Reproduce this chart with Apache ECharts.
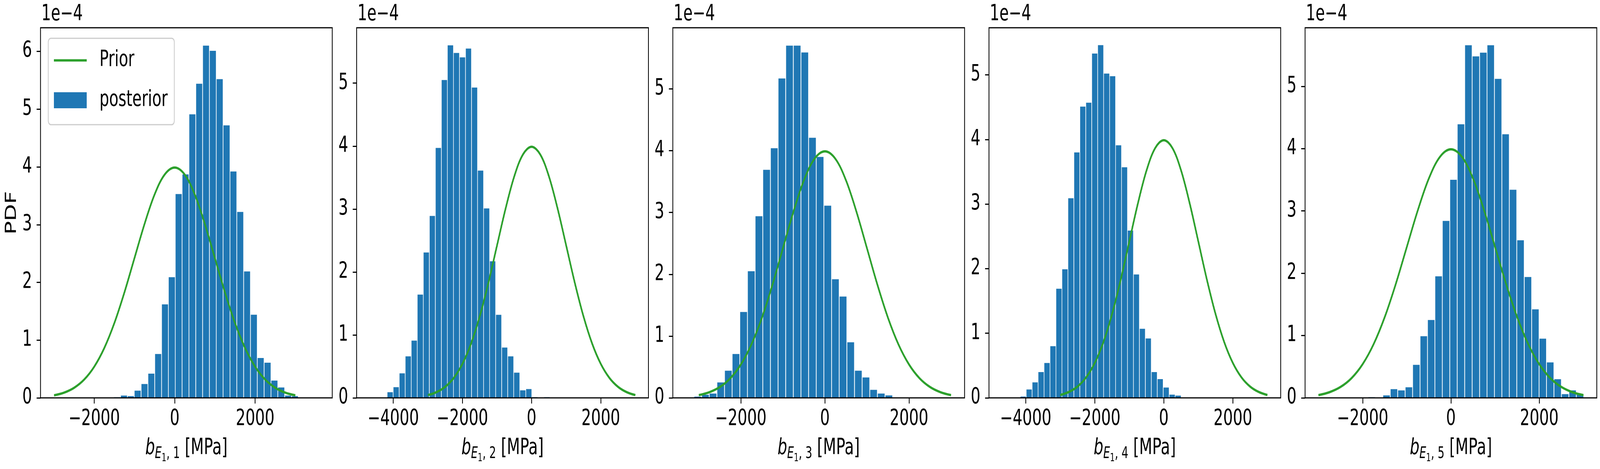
<!DOCTYPE html>
<html>
<head>
<meta charset="utf-8">
<script src="https://cdn.jsdelivr.net/npm/echarts@6/dist/echarts.min.js"></script>
<style>
  html, body { margin: 0; padding: 0; background: #fff; overflow: hidden; }
  #chart { width: 6000px; height: 1200px; transform-origin: 0 0; }
</style>
</head>
<body>
<div id="chart"></div>
<script>
// all pdf values are in units of 1e-4 (the offset text on each axis)

// prior curve, the same in all five panels
const priorX = [-3000, -2750, -2500, -2250, -2000, -1750, -1500, -1250, -1000, -750, -500, -250, 0,
  250, 500, 750, 1000, 1250, 1500, 1750, 2000, 2250, 2500, 2750, 3000];
const priorPdf = [0.044, 0.091, 0.175, 0.317, 0.54, 0.863, 1.295, 1.826, 2.42, 3.011, 3.521, 3.867, 3.989,
  3.867, 3.521, 3.011, 2.42, 1.826, 1.295, 0.863, 0.54, 0.317, 0.175, 0.091, 0.044];

// posterior histograms, 30 bins each
const binStart = [-1516, -4700, -3297, -4677, -2048];
const binWidth = [170, 174.3, 181.8, 172.6, 168.5];

const post1 = [0.01, 0.04, 0.03, 0.125, 0.24, 0.42, 0.76, 1.62, 2.09, 3.53, 3.87, 4.91, 5.44, 6.10, 6.01,
  5.52, 4.72, 3.92, 3.22, 2.19, 1.44, 0.69, 0.61, 0.30, 0.18, 0.04, 0.03, 0, 0, 0];
const post2 = [0.005, 0.003, 0.005, 0.09, 0.17, 0.39, 0.66, 0.91, 1.64, 2.31, 2.89, 3.97, 5.05, 5.60, 5.48,
  5.41, 5.55, 4.93, 3.61, 3.01, 2.17, 1.32, 0.80, 0.66, 0.40, 0.12, 0.14, 0.01, 0.005, 0.01];
const post3 = [0, 0.02, 0.05, 0.07, 0.25, 0.44, 0.71, 1.39, 2.05, 2.94, 3.69, 4.04, 5.17, 5.70, 5.70,
  5.59, 4.21, 3.90, 3.11, 1.92, 1.64, 0.90, 0.44, 0.33, 0.13, 0.07, 0.04, 0, 0, 0];
const post4 = [0.005, 0.005, 0, 0.02, 0.13, 0.24, 0.40, 0.54, 0.80, 1.69, 1.99, 3.09, 3.80, 4.51, 4.57,
  5.33, 5.46, 5.02, 4.98, 3.91, 3.57, 2.59, 1.91, 1.07, 0.92, 0.40, 0.29, 0.16, 0.05, 0.035];
const post5 = [0.003, 0.01, 0.003, 0.04, 0.14, 0.12, 0.17, 0.53, 0.99, 1.25, 1.95, 2.84, 3.50, 4.39, 5.66,
  5.48, 5.54, 5.66, 5.12, 4.23, 3.34, 2.53, 1.94, 1.42, 0.95, 0.57, 0.30, 0.06, 0.12, 0.05];
const posteriors = [post1, post2, post3, post4, post5];

// axis extents and ticks
const xMin = [-3335, -5057, -3618, -5065, -3303];
const xMax = [3918, 3377, 3320, 3385, 3303];
const yMax = [6.41, 5.88, 5.99, 5.73, 5.94];
const xTicks = [
  [-2000, 0, 2000],
  [-4000, -2000, 0, 2000],
  [-2000, 0, 2000],
  [-4000, -2000, 0, 2000],
  [-2000, 0, 2000]
];
const yTicks = [
  [0, 1, 2, 3, 4, 5, 6],
  [0, 1, 2, 3, 4, 5],
  [0, 1, 2, 3, 4, 5],
  [0, 1, 2, 3, 4, 5],
  [0, 1, 2, 3, 4, 5]
];
const paramIndex = ['1', '2', '3', '4', '5'];

const el = document.getElementById('chart');
// the viewport can be narrower than 6000px and gets stretched back, so squeeze the chart to fit it
const fitX = Math.min(1, window.innerWidth / 6000);
el.style.transform = 'scaleX(' + fitX + ')';
const chart = echarts.init(el);

const FONT = 'DejaVu Sans';
const FS = 57;
const BLUE = '#1f77b4';
const GREEN = '#2ca02c';
const panelLeft = i => 152 + 1185.5 * i;

function fmtTick(v) {
  return v < 0 ? '\u2212' + Math.abs(v) : String(v);
}

// one histogram bar per bin, 90% of the bin width
function renderBar(params, api) {
  const x0 = api.value(0), x1 = api.value(1), h = api.value(2);
  if (!(h > 0)) return null;
  const tl = api.coord([x0, h]);
  const br = api.coord([x1, 0]);
  const w = br[0] - tl[0];
  const bw = w * 0.9;
  return {
    type: 'rect',
    shape: { x: tl[0] + (w - bw) / 2, y: tl[1], width: bw, height: br[1] - tl[1] },
    style: { fill: BLUE }
  };
}

const nameRich = {
  b: { fontFamily: FONT, fontStyle: 'italic', fontSize: FS, lineHeight: FS, verticalAlign: 'top', color: '#000' },
  s: { fontFamily: FONT, fontStyle: 'italic', fontSize: 40, lineHeight: 40, verticalAlign: 'top', padding: [23, 0, 0, 0], color: '#000' },
  ss: { fontFamily: FONT, fontSize: 28, lineHeight: 28, verticalAlign: 'top', padding: [40, 0, 0, 0], color: '#000' },
  c: { fontFamily: FONT, fontSize: 40, lineHeight: 40, verticalAlign: 'top', padding: [23, 0, 0, 0], color: '#000' },
  n: { fontFamily: FONT, fontSize: FS, lineHeight: FS, verticalAlign: 'top', color: '#000' }
};

const tickStyle = { color: '#000', width: 3 };
const grids = [], xAxes = [], yAxes = [], series = [], texts = [];

for (let i = 0; i < 5; i++) {
  grids.push({
    left: panelLeft(i), top: 71, width: 1094, height: 947,
    show: true, borderColor: '#000', borderWidth: 3, backgroundColor: 'transparent', z: 10
  });

  xAxes.push({
    type: 'value', gridIndex: i, min: xMin[i], max: xMax[i],
    axisLine: { show: false, onZero: false },
    splitLine: { show: false },
    axisTick: { show: true, length: 14.6, lineStyle: tickStyle, customValues: xTicks[i] },
    axisLabel: {
      customValues: xTicks[i], formatter: fmtTick,
      fontFamily: FONT, fontSize: FS, color: '#000', margin: 27, lineHeight: FS
    },
    name: '{b|b}{s|E}{ss|1}{c|, ' + paramIndex[i] + '}{n| [MPa]}',
    nameLocation: 'middle', nameGap: 101,
    nameTextStyle: { verticalAlign: 'top', rich: nameRich }
  });

  const y = {
    type: 'value', gridIndex: i, min: 0, max: yMax[i],
    axisLine: { show: false, onZero: false },
    splitLine: { show: false },
    axisTick: { show: true, length: 14.6, lineStyle: tickStyle, customValues: yTicks[i] },
    axisLabel: {
      customValues: yTicks[i],
      fontFamily: FONT, fontSize: FS, color: '#000', margin: 32
    }
  };
  if (i === 0) {
    y.name = 'PDF';
    y.nameLocation = 'middle';
    y.nameRotate = 90;
    y.nameGap = 78;
    y.nameTextStyle = { fontFamily: FONT, fontSize: FS, color: '#000' };
  }
  yAxes.push(y);

  const bins = posteriors[i].map((h, k) => [
    binStart[i] + k * binWidth[i],
    binStart[i] + (k + 1) * binWidth[i],
    h
  ]);

  series.push({
    type: 'custom', name: 'posterior',
    xAxisIndex: i, yAxisIndex: i,
    renderItem: renderBar,
    encode: { x: [0, 1], y: 2 },
    itemStyle: { color: BLUE },
    data: bins, z: 2
  });

  series.push({
    type: 'line', name: 'Prior',
    xAxisIndex: i, yAxisIndex: i,
    data: priorX.map((x, k) => [x, priorPdf[k]]),
    symbol: 'none', showSymbol: false, smooth: 0.35,
    lineStyle: { color: GREEN, width: 6 },
    itemStyle: { color: GREEN },
    z: 3
  });

  texts.push({
    type: 'text', x: panelLeft(i) + 3, y: 37,
    style: {
      text: '1e\u22124', fill: '#000', font: FS + 'px "' + FONT + '"',
      textAlign: 'left', textVerticalAlign: 'middle', align: 'left', verticalAlign: 'middle'
    }
  });
}

chart.setOption({
  animation: false,
  backgroundColor: '#fff',
  grid: grids,
  xAxis: xAxes,
  yAxis: yAxes,
  series: series,
  graphic: texts,
  legend: {
    orient: 'vertical', left: 181, top: 98,
    padding: [28, 25, 34, 21],
    itemWidth: 123, itemHeight: 41, itemGap: 45,
    borderColor: '#cccccc', borderWidth: 3, borderRadius: 10,
    backgroundColor: 'rgba(255,255,255,0.8)',
    symbolKeepAspect: true,
    textStyle: { fontFamily: FONT, fontSize: FS, color: '#000', lineHeight: 41, padding: [0, 0, 0, 43] },
    data: [
      { name: 'Prior', icon: 'path://M0,0H120V6H0Z' },
      { name: 'posterior', icon: 'rect' }
    ]
  }
});
</script>
</body>
</html>
